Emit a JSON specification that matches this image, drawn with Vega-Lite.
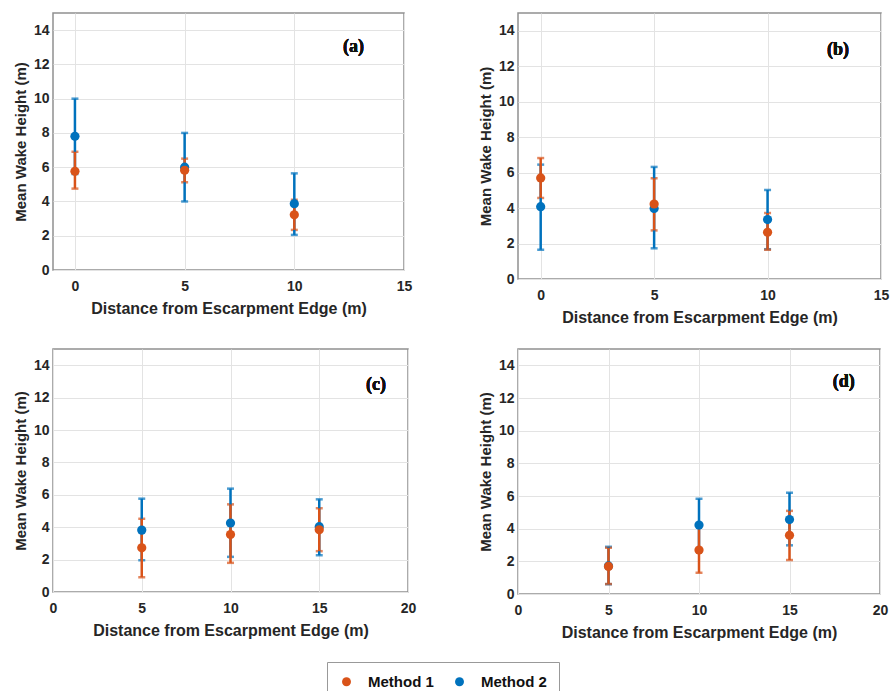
{
  "$schema": "https://vega.github.io/schema/vega-lite/v6.json",
  "padding": {"left": 12, "top": 12, "right": 5, "bottom": 5},
  "background": "white",
  "data": {"values": [
    {"panel": "a", "method": "Method 2", "x": 0, "mean": 7.8, "lo": 5.6, "hi": 10.0},
    {"panel": "a", "method": "Method 2", "x": 5, "mean": 6.0, "lo": 4.0, "hi": 8.0},
    {"panel": "a", "method": "Method 2", "x": 10, "mean": 3.87, "lo": 2.05, "hi": 5.64},
    {"panel": "a", "method": "Method 1", "x": 0, "mean": 5.76, "lo": 4.75, "hi": 6.9},
    {"panel": "a", "method": "Method 1", "x": 5, "mean": 5.82, "lo": 5.12, "hi": 6.5},
    {"panel": "a", "method": "Method 1", "x": 10, "mean": 3.22, "lo": 2.34, "hi": 4.1},
    {"panel": "b", "method": "Method 2", "x": 0, "mean": 4.08, "lo": 1.65, "hi": 6.45},
    {"panel": "b", "method": "Method 2", "x": 5, "mean": 3.98, "lo": 1.73, "hi": 6.32},
    {"panel": "b", "method": "Method 2", "x": 10, "mean": 3.35, "lo": 1.68, "hi": 5.02},
    {"panel": "b", "method": "Method 1", "x": 0, "mean": 5.7, "lo": 4.57, "hi": 6.82},
    {"panel": "b", "method": "Method 1", "x": 5, "mean": 4.23, "lo": 2.74, "hi": 5.68},
    {"panel": "b", "method": "Method 1", "x": 10, "mean": 2.63, "lo": 1.65, "hi": 3.72},
    {"panel": "c", "method": "Method 2", "x": 5, "mean": 3.82, "lo": 1.96, "hi": 5.76},
    {"panel": "c", "method": "Method 2", "x": 10, "mean": 4.26, "lo": 2.17, "hi": 6.38},
    {"panel": "c", "method": "Method 2", "x": 15, "mean": 4.03, "lo": 2.27, "hi": 5.72},
    {"panel": "c", "method": "Method 1", "x": 5, "mean": 2.73, "lo": 0.91, "hi": 4.52},
    {"panel": "c", "method": "Method 1", "x": 10, "mean": 3.55, "lo": 1.8, "hi": 5.41},
    {"panel": "c", "method": "Method 1", "x": 15, "mean": 3.84, "lo": 2.52, "hi": 5.17},
    {"panel": "d", "method": "Method 2", "x": 5, "mean": 1.72, "lo": 0.6, "hi": 2.89},
    {"panel": "d", "method": "Method 2", "x": 10, "mean": 4.22, "lo": 2.6, "hi": 5.83},
    {"panel": "d", "method": "Method 2", "x": 15, "mean": 4.56, "lo": 2.98, "hi": 6.2},
    {"panel": "d", "method": "Method 1", "x": 5, "mean": 1.69, "lo": 0.61, "hi": 2.83},
    {"panel": "d", "method": "Method 1", "x": 10, "mean": 2.69, "lo": 1.3, "hi": 4.16},
    {"panel": "d", "method": "Method 1", "x": 15, "mean": 3.59, "lo": 2.08, "hi": 5.09}
  ]},
  "columns": 2,
  "spacing": {"row": 70, "column": 110},
  "bounds": "flush",
  "align": "none",
  "concat": [
    {
      "width": 351, "height": 257,
      "transform": [{"filter": "datum.panel === 'a'"}],
      "layer": [
        {"mark": {"type": "errorbar", "ticks": {"size": 7}, "thickness": 2.5},
         "encoding": {
           "x": {"field": "x", "type": "quantitative", "scale": {"domain": [-1, 15], "nice": false}, "axis": {"values": [0, 5, 10, 15], "tickCount": 20, "title": "Distance from Escarpment Edge (m)"}},
           "y": {"field": "lo", "type": "quantitative", "scale": {"domain": [0, 15], "nice": false}, "axis": {"values": [0, 2, 4, 6, 8, 10, 12, 14], "tickCount": 20, "title": "Mean Wake Height (m)"}},
           "y2": {"field": "hi"},
           "color": {"field": "method", "type": "nominal", "scale": {"domain": ["Method 1", "Method 2"], "range": ["#D95319", "#0072BD"]}, "legend": {"title": null}}
         }},
        {"mark": {"type": "point", "filled": true, "size": 85, "opacity": 1},
         "encoding": {
           "x": {"field": "x", "type": "quantitative"},
           "y": {"field": "mean", "type": "quantitative"},
           "color": {"field": "method", "type": "nominal"}
         }},
        {"mark": {"type": "text", "font": "Liberation Serif", "fontWeight": "bold", "fontSize": 18, "color": "#111"},
         "encoding": {"x": {"datum": 12.7}, "y": {"datum": 13}, "text": {"value": "(a)"}}}
      ]
    },
    {
      "width": 363, "height": 266,
      "transform": [{"filter": "datum.panel === 'b'"}],
      "layer": [
        {"mark": {"type": "errorbar", "ticks": {"size": 7}, "thickness": 2.5},
         "encoding": {
           "x": {"field": "x", "type": "quantitative", "scale": {"domain": [-1, 15], "nice": false}, "axis": {"values": [0, 5, 10, 15], "tickCount": 20, "title": "Distance from Escarpment Edge (m)"}},
           "y": {"field": "lo", "type": "quantitative", "scale": {"domain": [0, 15], "nice": false}, "axis": {"values": [0, 2, 4, 6, 8, 10, 12, 14], "tickCount": 20, "title": "Mean Wake Height (m)"}},
           "y2": {"field": "hi"},
           "color": {"field": "method", "type": "nominal"}
         }},
        {"mark": {"type": "point", "filled": true, "size": 85, "opacity": 1},
         "encoding": {
           "x": {"field": "x", "type": "quantitative"},
           "y": {"field": "mean", "type": "quantitative"},
           "color": {"field": "method", "type": "nominal"}
         }},
        {"mark": {"type": "text", "font": "Liberation Serif", "fontWeight": "bold", "fontSize": 18, "color": "#111"},
         "encoding": {"x": {"datum": 13.1}, "y": {"datum": 12.9}, "text": {"value": "(b)"}}}
      ]
    },
    {
      "width": 355, "height": 243,
      "transform": [{"filter": "datum.panel === 'c'"}],
      "layer": [
        {"mark": {"type": "errorbar", "ticks": {"size": 7}, "thickness": 2.5},
         "encoding": {
           "x": {"field": "x", "type": "quantitative", "scale": {"domain": [0, 20], "nice": false}, "axis": {"values": [0, 5, 10, 15, 20], "tickCount": 20, "title": "Distance from Escarpment Edge (m)"}},
           "y": {"field": "lo", "type": "quantitative", "scale": {"domain": [0, 15], "nice": false}, "axis": {"values": [0, 2, 4, 6, 8, 10, 12, 14], "tickCount": 20, "title": "Mean Wake Height (m)"}},
           "y2": {"field": "hi"},
           "color": {"field": "method", "type": "nominal"}
         }},
        {"mark": {"type": "point", "filled": true, "size": 85, "opacity": 1},
         "encoding": {
           "x": {"field": "x", "type": "quantitative"},
           "y": {"field": "mean", "type": "quantitative"},
           "color": {"field": "method", "type": "nominal"}
         }},
        {"mark": {"type": "text", "font": "Liberation Serif", "fontWeight": "bold", "fontSize": 18, "color": "#111"},
         "encoding": {"x": {"datum": 18.2}, "y": {"datum": 12.8}, "text": {"value": "(c)"}}}
      ]
    },
    {
      "width": 362, "height": 245,
      "transform": [{"filter": "datum.panel === 'd'"}],
      "layer": [
        {"mark": {"type": "errorbar", "ticks": {"size": 7}, "thickness": 2.5},
         "encoding": {
           "x": {"field": "x", "type": "quantitative", "scale": {"domain": [0, 20], "nice": false}, "axis": {"values": [0, 5, 10, 15, 20], "tickCount": 20, "title": "Distance from Escarpment Edge (m)"}},
           "y": {"field": "lo", "type": "quantitative", "scale": {"domain": [0, 15], "nice": false}, "axis": {"values": [0, 2, 4, 6, 8, 10, 12, 14], "tickCount": 20, "title": "Mean Wake Height (m)"}},
           "y2": {"field": "hi"},
           "color": {"field": "method", "type": "nominal"}
         }},
        {"mark": {"type": "point", "filled": true, "size": 85, "opacity": 1},
         "encoding": {
           "x": {"field": "x", "type": "quantitative"},
           "y": {"field": "mean", "type": "quantitative"},
           "color": {"field": "method", "type": "nominal"}
         }},
        {"mark": {"type": "text", "font": "Liberation Serif", "fontWeight": "bold", "fontSize": 18, "color": "#111"},
         "encoding": {"x": {"datum": 18.0}, "y": {"datum": 13.0}, "text": {"value": "(d)"}}}
      ]
    }
  ],
  "resolve": {"scale": {"x": "independent", "y": "independent"}},
  "config": {
    "view": {"stroke": "#909090", "strokeWidth": 1.5},
    "axis": {
      "domain": false,
      "ticks": false,
      "grid": true,
      "gridColor": "#e3e3e3",
      "gridWidth": 1,
      "labelFont": "Liberation Sans",
      "labelFontWeight": "bold",
      "labelFontSize": 14,
      "labelColor": "#262626",
      "labelFlush": false,
      "titleFont": "Liberation Sans",
      "titleFontWeight": "bold",
      "titleColor": "#262626"
    },
    "axisX": {"labelPadding": 9, "titlePadding": 7, "titleFontSize": 16},
    "axisY": {"labelPadding": 4, "titlePadding": 5, "titleFontSize": 15},
    "legend": {
      "orient": "none",
      "legendX": 274,
      "legendY": 649,
      "direction": "horizontal",
      "strokeColor": "#999",
      "padding": 12,
      "labelFont": "Liberation Sans",
      "labelFontWeight": "bold",
      "labelFontSize": 15,
      "labelColor": "#111",
      "labelOffset": 14,
      "symbolType": "circle",
      "symbolSize": 80,
      "symbolOpacity": 1,
      "symbolStrokeWidth": 0,
      "columnPadding": 18
    }
  }
}
